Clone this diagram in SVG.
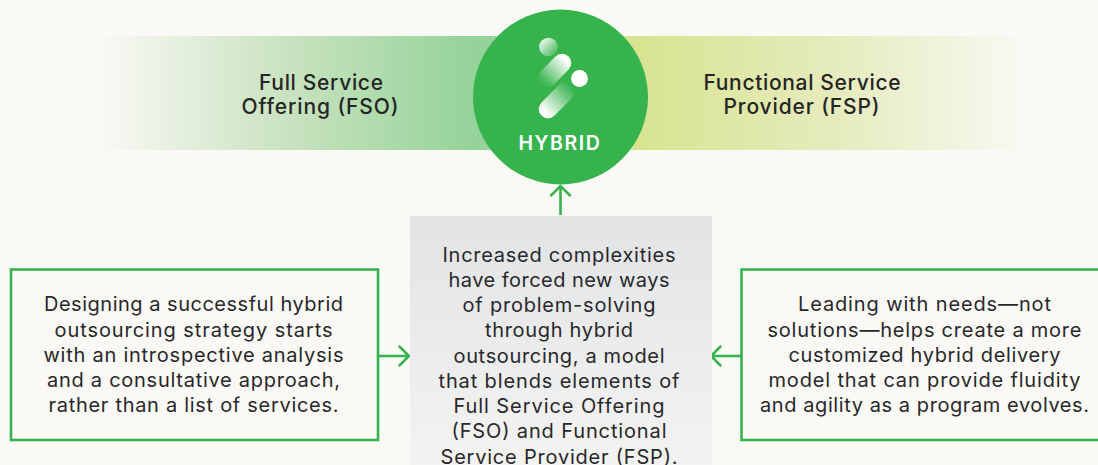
<svg xmlns="http://www.w3.org/2000/svg" width="1098" height="465" viewBox="0 0 1098 465">
<style>
.t{font-family:"Inter","Liberation Sans",sans-serif;font-size:20px;fill:#28282a;text-anchor:middle}
.h{font-family:"Inter","Liberation Sans",sans-serif;font-size:21px;font-weight:500;fill:#252525;text-anchor:middle}
.box{fill:#faf9f5;stroke:#37b34e;stroke-width:2.6}
.c{fill:none;stroke:#37b34e;stroke-width:2.6}
</style>
<defs>
<linearGradient id="gl" gradientUnits="userSpaceOnUse" x1="100" y1="0" x2="470" y2="0"><stop offset="0" stop-color="#faf9f5"/><stop offset=".5" stop-color="#c9e3c0"/><stop offset="1" stop-color="#96d39a"/></linearGradient>
<linearGradient id="gr" gradientUnits="userSpaceOnUse" x1="640" y1="0" x2="1032" y2="0"><stop offset="0" stop-color="#d8e491"/><stop offset=".5" stop-color="#e6ebbd"/><stop offset="1" stop-color="#faf9f5"/></linearGradient>
<linearGradient id="gc" x1="0" y1="0" x2="0" y2="1"><stop offset="0" stop-color="#e2e3e5"/><stop offset="1" stop-color="#f3f3f2"/></linearGradient>
<linearGradient id="l1" gradientUnits="userSpaceOnUse" x1="541" y1="39" x2="556" y2="54"><stop offset="0" stop-color="#fff" stop-opacity=".95"/><stop offset="1" stop-color="#fff" stop-opacity=".1"/></linearGradient>
<linearGradient id="l2" gradientUnits="userSpaceOnUse" x1="566" y1="60" x2="544" y2="82"><stop offset="0" stop-color="#fff"/><stop offset="1" stop-color="#fff" stop-opacity=".05"/></linearGradient>
<linearGradient id="l3" gradientUnits="userSpaceOnUse" x1="545" y1="113" x2="572" y2="88"><stop offset="0" stop-color="#fff"/><stop offset="1" stop-color="#fff" stop-opacity="0"/></linearGradient>
</defs>
<rect width="1098" height="465" fill="#faf9f5"/>
<g id="band-fso"><rect x="100" y="36" width="420" height="114" fill="url(#gl)"/><text class="h" x="321" y="90" textLength="124">Full Service</text><text class="h" x="320" y="114" textLength="157">Offering (FSO)</text></g>
<g id="band-fsp"><rect x="600" y="36" width="432" height="114" fill="url(#gr)"/><text class="h" x="802" y="90" textLength="197">Functional Service</text><text class="h" x="801.5" y="114" textLength="156">Provider (FSP)</text></g>
<g id="connectors">
<path class="c" d="M560.5 215V186M550.3 196.2L560.5 186L570.7 196.2"/>
<path class="c" d="M379 356H409M398.8 345.8L409 356L398.8 366.2"/>
<path class="c" d="M741 356H711M721.2 345.8L711 356L721.2 366.2"/>
</g>
<g id="hybrid">
<circle cx="560.5" cy="97" r="87.5" fill="#37b34e"/>
<circle cx="548.5" cy="47" r="9.3" fill="url(#l1)"/>
<line x1="562" y1="63" x2="548" y2="77.5" stroke="url(#l2)" stroke-width="18.5" stroke-linecap="round"/>
<circle cx="579.5" cy="78.5" r="8.4" fill="#fff"/>
<line x1="548" y1="109" x2="566" y2="91" stroke="url(#l3)" stroke-width="18.5" stroke-linecap="round"/>
<text x="560" y="150" font-family="Inter,'Liberation Sans',sans-serif" font-size="19.5" font-weight="600" fill="#fff" text-anchor="middle" letter-spacing="1.6">HYBRID</text>
</g>
<g id="center"><rect x="410" y="216" width="302" height="249" fill="url(#gc)"/>
<text class="t" x="559" y="262" textLength="233">Increased complexities</text>
<text class="t" x="559" y="287" textLength="221">have forced new ways</text>
<text class="t" x="559" y="312" textLength="193">of problem-solving</text>
<text class="t" x="559" y="337" textLength="148">through hybrid</text>
<text class="t" x="559" y="363" textLength="211">outsourcing, a model</text>
<text class="t" x="559" y="388" textLength="241">that blends elements of</text>
<text class="t" x="559" y="413" textLength="211">Full Service Offering</text>
<text class="t" x="559" y="438" textLength="215">(FSO) and Functional</text>
<text class="t" x="559" y="464" textLength="237">Service Provider (FSP).</text>
</g>
<g id="left"><rect class="box" x="11" y="269.5" width="367" height="170.5"/>
<text class="t" x="193.5" y="311" textLength="299">Designing a successful hybrid</text>
<text class="t" x="193.5" y="337" textLength="278">outsourcing strategy starts</text>
<text class="t" x="193.5" y="362" textLength="300">with an introspective analysis</text>
<text class="t" x="193.5" y="387" textLength="293">and a consultative approach,</text>
<text class="t" x="193.5" y="412" textLength="290">rather than a list of services.</text>
</g>
<g id="right"><rect class="box" x="741.5" y="269.5" width="370" height="170.5"/>
<text class="t" x="924.5" y="311" textLength="253">Leading with needs—not</text>
<text class="t" x="924.5" y="337" textLength="314">solutions—helps create a more</text>
<text class="t" x="924.5" y="362" textLength="272">customized hybrid delivery</text>
<text class="t" x="924.5" y="387" textLength="312">model that can provide fluidity</text>
<text class="t" x="924.5" y="412" textLength="329">and agility as a program evolves.</text>
</g>
</svg>
